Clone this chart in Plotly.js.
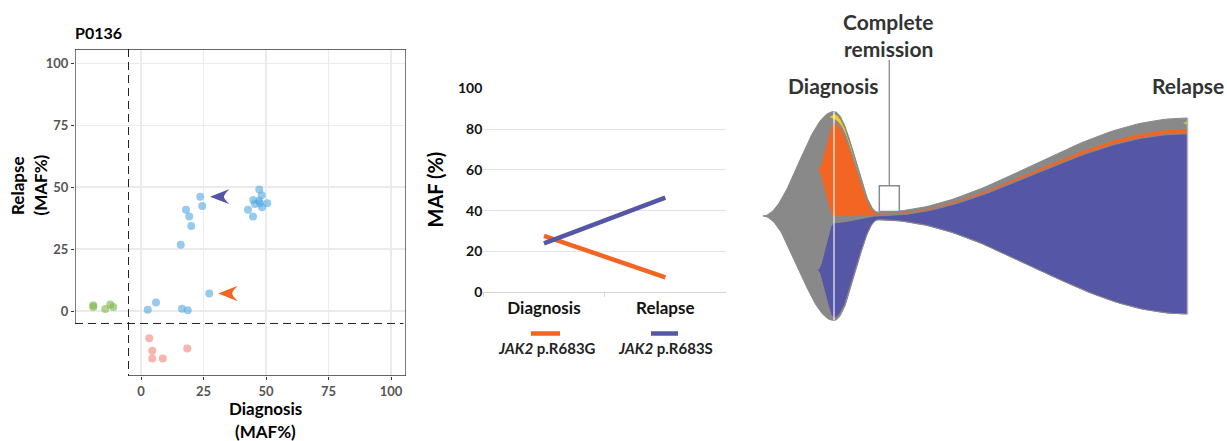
<!DOCTYPE html>
<html><head><meta charset="utf-8">
<script src="https://cdn.plot.ly/plotly-3.0.1.min.js"></script>
<style>html,body{margin:0;padding:0;background:#fff}#chart{width:1227px;height:441px}</style>
</head><body><div id="chart"></div>
<script>
// ---------- Panel 1: P0136 scatter, MAF% at diagnosis vs relapse ----------
const sharedDx  = [23.7, 24.5, 18.0, 19.3, 20.1, 15.9, 27.3, 2.7, 6.0, 16.4, 18.7, 47.3, 48.3, 44.9, 47.2, 45.6, 47.6, 48.4, 50.5, 42.8, 44.8];
const sharedRel = [46.2, 42.4, 40.9, 38.2, 34.3, 26.8, 7.1, 0.5, 3.5, 0.9, 0.3, 49.1, 46.8, 44.8, 44.5, 43.2, 43.5, 41.9, 43.5, 40.9, 38.2];
const relOnlyDx  = [-19.1, -19.1, -14.3, -12.3, -11.1];
const relOnlyRel = [2.4, 1.7, 0.8, 2.7, 1.7];
const dxOnlyDx  = [3.3, 4.5, 4.5, 8.7, 18.5];
const dxOnlyRel = [-11.0, -16.0, -19.1, -19.1, -15.1];
const scatterTicks = [0, 25, 50, 75, 100];
const detectionCutoff = -5;
const arrowTipDx  = [27.6, 30.9];   // R683S, R683G
const arrowTipRel = [46.2, 7.1];

// ---------- Panel 2: JAK2 MAF over time ----------
const timepoints = ['Diagnosis', 'Relapse'];
const mafR683G = [27.7, 7.3];
const mafR683S = [24.0, 46.4];
const mafTicks = [0, 20, 40, 60, 80, 100];

// ---------- Panel 3: fish plot ----------
// times: origin, Diagnosis, Complete remission, Relapse (relative units)
const fishTimes = [0, 71.3, 115.3, 424.8];
// layer fractions (% of diagnosis sample) at Diagnosis, CR, Relapse, top to bottom
const founderOnlyTop    = [1.2, 0.4, 1.1];
const subcloneGreen     = [0, 0, 2.4];
const subcloneYellow    = [2.9, 0, 0];
const founderOnlyUpper  = [1.5, 0.3, 1.6];
const cloneR683G        = [44.9, 0.8, 2.4];
const founderOnlyMiddle = [2.7, 0.3, 0];
const cloneR683S        = [45.6, 1.8, 86.2];
const founderOnlyBottom = [1.2, 0.1, 0];
// emergence times of the subclones
const emergeGreen = 418.8, emergeYellow = 65.6, emergeR683G = 54.3, emergeR683S = 54.3;

const W = 1227, H = 441;
const px = v => v / W, py = v => 1 - v / H;

const C_OR = '#F26522', C_BL = '#5557A6', C_GR = '#8a8a8a';

// ---- fish geometry ----
const layers = [founderOnlyTop, subcloneGreen, subcloneYellow, founderOnlyUpper, cloneR683G, founderOnlyMiddle, cloneR683S, founderOnlyBottom];
const nT = 3;
const totals = [], layerTop = layers.map(() => []), layerBot = layers.map(() => []);
for (let i = 0; i < nT; i++) {
  let tot = 0; layers.forEach(l => tot += l[i]); totals.push(tot);
  let cur = tot / 2;
  layers.forEach((l, k) => { layerTop[k].push(cur); cur -= l[i]; layerBot[k].push(cur); });
}
function ease(a, b, t) { return a + (b - a) * (1 - Math.cos(Math.PI * t)) / 2; }
function polygon(xs, tops, bots) {
  const X = [], T = [], B = [];
  for (let s = 0; s < xs.length - 1; s++) {
    const n = 60;
    for (let j = 0; j <= n; j++) {
      if (s > 0 && j === 0) continue;
      const t = j / n;
      X.push(xs[s] + (xs[s + 1] - xs[s]) * t);
      T.push(ease(tops[s], tops[s + 1], t));
      B.push(ease(bots[s], bots[s + 1], t));
    }
  }
  return { x: X.concat(X.slice().reverse()), y: T.concat(B.slice().reverse()) };
}
function clonePoly(k, emerge) {
  const vals = layers[k];
  let first = vals.findIndex(v => v > 0);
  let last = first; for (let i = first; i < nT; i++) { if (vals[i] > 0) last = i; }
  const endIdx = Math.min(last + 1, nT - 1);
  const c = (layerTop[k][first] + layerBot[k][first]) / 2;
  const xs = [emerge], tops = [c], bots = [c];
  for (let i = first; i <= endIdx; i++) {
    xs.push(fishTimes[i + 1]);
    if (vals[i] > 0) { tops.push(layerTop[k][i]); bots.push(layerBot[k][i]); }
    else { const m = layerTop[k][i]; tops.push(m); bots.push(m); }
  }
  return polygon(xs, tops, bots);
}
const founderPoly = polygon(fishTimes, [0].concat(totals.map(t => t / 2)), [0].concat(totals.map(t => -t / 2)));
const fishTrace = (p, color) => ({ x: p.x, y: p.y, xaxis: 'x3', yaxis: 'y3', mode: 'lines', fill: 'toself', fillcolor: color, line: { color: C_GR, width: 1 }, hoverinfo: 'skip' });

const traces = [
  // panel 1
  { x: sharedDx, y: sharedRel, mode: 'markers', marker: { size: 8, color: 'rgba(80,168,226,0.6)' }, hoverinfo: 'skip' },
  { x: relOnlyDx, y: relOnlyRel, mode: 'markers', marker: { size: 8, color: 'rgba(125,182,72,0.6)' }, hoverinfo: 'skip' },
  { x: dxOnlyDx, y: dxOnlyRel, mode: 'markers', marker: { size: 8, color: 'rgba(242,120,110,0.55)' }, hoverinfo: 'skip' },
  // panel 2
  { x: timepoints, y: mafR683G, xaxis: 'x2', yaxis: 'y2', mode: 'lines', line: { color: C_OR, width: 4.5 }, hoverinfo: 'skip' },
  { x: timepoints, y: mafR683S, xaxis: 'x2', yaxis: 'y2', mode: 'lines', line: { color: C_BL, width: 4.5 }, hoverinfo: 'skip' },
  // panel 3
  fishTrace(founderPoly, '#898989'),
  fishTrace(clonePoly(4, emergeR683G), C_OR),
  fishTrace(clonePoly(6, emergeR683S), C_BL),
  fishTrace(clonePoly(2, emergeYellow), '#F7C81E'),
  fishTrace(clonePoly(1, emergeGreen), '#A9CF3A')
];

// ---- shapes ----
const yTop = 105.8, yBot = -26.2, xL = -26.4, xR = 106;
const shapes = [
  // panel frame
  { type: 'line', xref: 'x', yref: 'y', x0: xL, x1: xR, y0: yTop, y1: yTop, line: { color: '#333', width: 1.3 } },
  { type: 'line', xref: 'x', yref: 'y', x0: xR, x1: xR, y0: yTop, y1: yBot, line: { color: '#333', width: 1.3 } },
  { type: 'line', xref: 'x', yref: 'y', x0: xL, x1: xL, y0: yTop, y1: detectionCutoff, line: { color: '#333', width: 1.3 } },
  { type: 'line', xref: 'x', yref: 'y', x0: detectionCutoff, x1: xR, y0: yBot, y1: yBot, line: { color: '#333', width: 1.3 } },
  // cutoff dashed lines
  { type: 'line', xref: 'x', yref: 'y', x0: detectionCutoff, x1: detectionCutoff, y0: yTop, y1: yBot, line: { color: '#222', width: 1, dash: '8px,5px' } },
  { type: 'line', xref: 'x', yref: 'y', x0: xL, x1: xR - 1, y0: detectionCutoff, y1: detectionCutoff, line: { color: '#222', width: 1, dash: '8px,5px' } }
];
// arrowheads
const arrowColors = [C_BL, C_OR];
arrowTipDx.forEach((x0, i) => {
  const y0 = arrowTipRel[i];
  shapes.push({ type: 'path', xref: 'x', yref: 'y', fillcolor: arrowColors[i], line: { width: 0 },
    path: `M${x0},${y0} L${x0 + 7.8},${y0 + 3.1} Q${x0 + 5.4},${y0 + 0.6} ${x0 + 5.6},${y0} Q${x0 + 5.4},${y0 - 0.6} ${x0 + 7.8},${y0 - 3.1} Z` });
});
// panel 2 legend samples
shapes.push({ type: 'line', xref: 'paper', yref: 'paper', x0: px(531), x1: px(560), y0: py(333.5), y1: py(333.5), line: { color: C_OR, width: 4.5 } });
shapes.push({ type: 'line', xref: 'paper', yref: 'paper', x0: px(651), x1: px(678), y0: py(333.5), y1: py(333.5), line: { color: C_BL, width: 4.5 } });
// fish: diagnosis line, relapse edge
shapes.push({ type: 'line', xref: 'x3', yref: 'y3', x0: fishTimes[1], x1: fishTimes[1], y0: -totals[0] / 2, y1: totals[0] / 2, line: { color: 'rgba(255,255,255,0.75)', width: 1.5 } });
shapes.push({ type: 'line', xref: 'x3', yref: 'y3', x0: fishTimes[3], x1: fishTimes[3], y0: -totals[2] / 2, y1: totals[2] / 2, line: { color: '#b5b5b5', width: 1.5 } });
// complete remission marker
shapes.push({ type: 'line', xref: 'paper', yref: 'paper', x0: px(889.3), x1: px(889.3), y0: py(60), y1: py(185.7), line: { color: '#8a8a8a', width: 1.3 } });
shapes.push({ type: 'rect', xref: 'paper', yref: 'paper', x0: px(879.3), x1: px(899.3), y0: py(211.5), y1: py(185.7), fillcolor: '#fff', line: { color: '#8a8a8a', width: 1.5 } });

// ---- annotations ----
const F = 'Lato, "Open Sans", sans-serif';
const ann = (x, y, text, size, opts = {}) => Object.assign({ xref: 'paper', yref: 'paper', x: px(x), y: py(y), text, showarrow: false,
  font: { family: F, size, color: opts.color || '#000', weight: opts.weight || 700 }, xanchor: opts.xanchor || 'center', yanchor: 'middle' }, opts.extra || {});
const annotations = [
  ann(73, 33, 'P0136', 16, { xanchor: 'left' }),
  ann(17.5, 185.5, 'Relapse', 17, { extra: { textangle: -90 } }),
  ann(40, 185.5, '(MAF%)', 17, { extra: { textangle: -90 } }),
  ann(265.5, 408, 'Diagnosis', 17),
  ann(265.5, 431, '(MAF%)', 17),
  ann(434.5, 190, 'MAF (%)', 20, { extra: { textangle: -90 } }),
  ann(546.5, 348, '<i>JAK2</i> p.R683G', 15, { color: '#222' }),
  ann(665, 348, '<i>JAK2</i> p.R683S', 15, { color: '#222' }),
  ann(888.5, 21, 'Complete', 21, { color: '#333' }),
  ann(889, 48.5, 'remission', 21, { color: '#333' }),
  ann(833.5, 85, 'Diagnosis', 21, { color: '#333' }),
  ann(1188, 85, 'Relapse', 21, { color: '#333' })
];

const layout = {
  width: W, height: H, margin: { l: 0, r: 0, t: 0, b: 0 }, showlegend: false,
  paper_bgcolor: '#fff', plot_bgcolor: 'rgba(0,0,0,0)', font: { family: F },
  xaxis: { domain: [px(75), px(406)], anchor: 'y', range: [xL, xR], tickvals: scatterTicks, showgrid: true, gridcolor: '#ebebeb', gridwidth: 1.5,
    zeroline: false, showline: false, ticks: 'outside', ticklen: 3, tickcolor: '#333', tickfont: { family: F, size: 13, color: '#555', weight: 700 } },
  yaxis: { domain: [py(376), py(49)], anchor: 'x', range: [yBot, yTop], tickvals: scatterTicks, showgrid: true, gridcolor: '#ebebeb', gridwidth: 1.5,
    zeroline: false, showline: false, ticks: 'outside', ticklen: 3, tickcolor: '#333', tickfont: { family: F, size: 13, color: '#555', weight: 700 } },
  xaxis2: { domain: [px(483.3), px(726)], anchor: 'y2', type: 'category', range: [-0.5, 1.5], tickson: 'boundaries', ticks: 'outside', ticklen: 4,
    tickcolor: '#d4d4d4', showline: true, linecolor: '#d4d4d4', linewidth: 1, showgrid: false, zeroline: false,
    tickfont: { family: F, size: 17, color: '#111', weight: 700 } },
  yaxis2: { domain: [py(292.3), py(88.3)], anchor: 'x2', range: [0, 100], tickvals: mafTicks, showgrid: true, gridcolor: '#e3e3e3', gridwidth: 1,
    zeroline: false, showline: false, ticks: '', tickfont: { family: F, size: 14, color: '#111', weight: 700 } },
  xaxis3: { domain: [px(762.7), px(762.7 + 430)], anchor: 'y3', range: [0, 430], visible: false },
  yaxis3: { domain: [py(330), py(100)], anchor: 'x3', range: [(216 - 330) / 2.09, (216 - 100) / 2.09], visible: false },
  shapes, annotations
};
Plotly.newPlot('chart', traces, layout, { staticPlot: true, displayModeBar: false });
</script></body></html>
